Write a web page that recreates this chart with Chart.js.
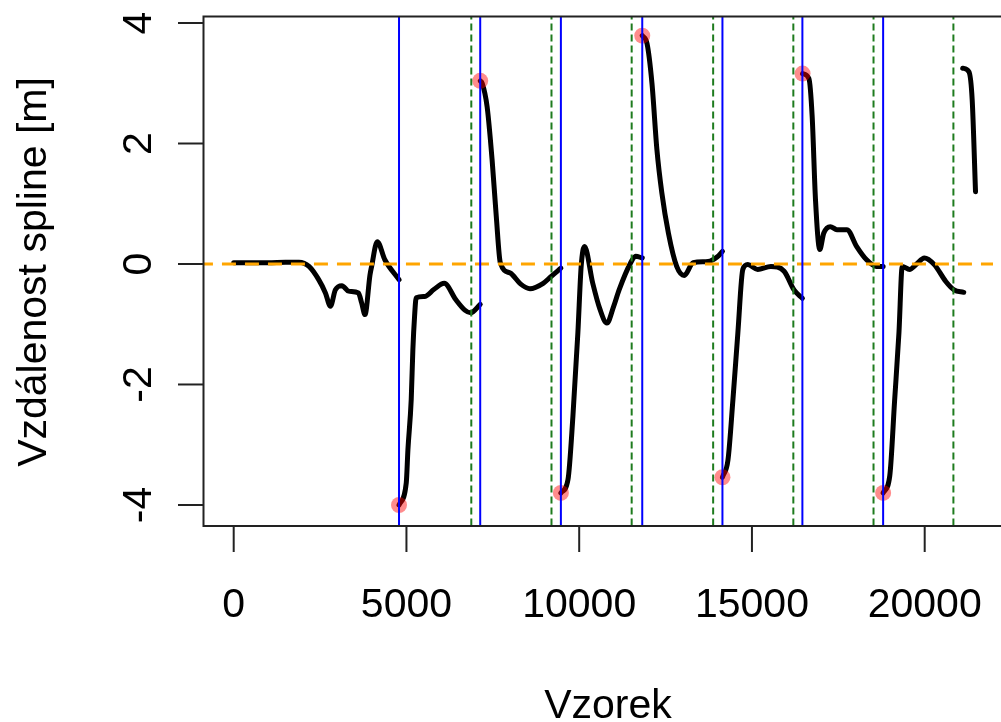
<!DOCTYPE html>
<html><head><meta charset="utf-8">
<script src="https://cdn.jsdelivr.net/npm/chart.js@4"></script>
<style>html,body{margin:0;padding:0;background:#fff;overflow:hidden}#wrap{width:1001px;height:722px;position:relative}</style>
</head><body><div id="wrap"><canvas id="c" width="1001" height="722"></canvas></div>
<script>
// ---- data ----
const xTicks = [0, 5000, 10000, 15000, 20000];
const yTicks = [-4, -2, 0, 2, 4];
const xTitle = 'Vzorek';
const yTitle = 'Vzdálenost spline [m]';
const blueLines = [4785, 7135, 9470, 11825, 14146, 16460, 18797];
const greenLines = [6877, 9198, 11519, 13877, 16198, 18519, 20831];
const peakX = [4785, 7135, 9470, 11825, 14146, 16465, 18797];
const peakY = [-4.0, 3.04, -3.80, 3.79, -3.54, 3.16, -3.80];
const zeroLevel = 0;

const seg1 = [[0,0.02],[500,0.02],[1000,0.02],[1500,0.03],[1890,0.03],[2180,-0.04],[2460,-0.26],[2655,-0.48],[2800,-0.70],[2942,-0.43],[3132,-0.36],[3324,-0.45],[3610,-0.48],[3705,-0.65],[3800,-0.84],[3945,-0.18],[3992,-0.04],[4155,0.37],[4375,0.07],[4785,-0.26]];
const seg2 = [[4785,-4.0],[4995,-3.63],[5043,-3.08],[5138,-2.25],[5186,-1.42],[5235,-0.87],[5282,-0.56],[5520,-0.54],[5800,-0.42],[6094,-0.32],[6427,-0.59],[6700,-0.77],[6857,-0.81],[7135,-0.67]];
const seg3 = [[7135,3.04],[7192,3.00],[7335,2.61],[7479,1.73],[7600,0.79],[7717,0.02],[8003,-0.15],[8300,-0.33],[8576,-0.41],[8958,-0.32],[9200,-0.20],[9470,-0.07]];
const seg4 = [[9470,-3.80],[9675,-3.58],[9818,-2.53],[9962,-1.14],[10057,-0.04],[10153,0.29],[10392,-0.32],[10600,-0.75],[10802,-0.98],[11000,-0.70],[11155,-0.43],[11490,0.02],[11633,0.13],[11825,0.10]];
const seg5 = [[11825,3.79],[11963,3.66],[12106,3.00],[12249,1.90],[12392,1.18],[12583,0.51],[12822,-0.04],[13040,-0.19],[13298,0.02],[13728,0.04],[14000,0.12],[14146,0.21]];
const seg6 = [[14146,-3.54],[14307,-3.25],[14450,-2.25],[14593,-1.14],[14736,-0.09],[14880,-0.01],[15166,-0.09],[15548,-0.04],[15931,-0.12],[16218,-0.43],[16460,-0.57]];
const seg7 = [[16465,3.16],[16648,3.08],[16743,2.45],[16839,1.07],[16963,0.24],[17077,0.51],[17269,0.62],[17460,0.57],[17746,0.57],[18032,0.29],[18318,0.07],[18605,-0.04],[18797,-0.04]];
const seg8 = [[18797,-3.80],[18988,-3.52],[19131,-2.25],[19255,-1.14],[19350,-0.04],[19561,-0.09],[19751,-0.01],[19991,0.10],[20278,-0.01],[20611,-0.29],[20850,-0.43],[21130,-0.47]];
const seg9 = [[21100,3.25],[21280,3.19],[21375,2.72],[21471,1.20]];
const segments = [seg1, seg2, seg3, seg4, seg5, seg6, seg7, seg8, seg9];

// ---- build ----
const FONT = '41px "Liberation Sans", Arial, sans-serif';
const datasets = [];
blueLines.forEach(v => datasets.push({
  data: [{x: v, y: -10}, {x: v, y: 10}], borderColor: '#0000ff', borderWidth: 2,
  pointRadius: 0, clip: 0
}));
greenLines.forEach(v => datasets.push({
  data: [{x: v, y: -10}, {x: v, y: 10}], borderColor: '#1e7b1e', borderWidth: 2,
  borderDash: [7, 4], pointRadius: 0, clip: 0
}));
datasets.push({
  data: [{x: -5000, y: zeroLevel}, {x: 30000, y: zeroLevel}], borderColor: '#ffa500',
  borderWidth: 3, borderDash: [14, 9], pointRadius: 0, clip: 0
});
datasets.push({
  data: peakX.map((x, i) => ({x, y: peakY[i]})),
  showLine: false, pointRadius: 8, pointHoverRadius: 8,
  pointBackgroundColor: 'rgba(255,0,0,0.45)', pointBorderWidth: 0, borderWidth: 0
});
segments.forEach(s => datasets.push({
  data: s.map(p => ({x: p[0], y: p[1]})), borderColor: '#000', borderWidth: 5,
  pointRadius: 0, cubicInterpolationMode: 'monotone', tension: 0.4,
  borderCapStyle: 'round', borderJoinStyle: 'round'
}));

const frame = {
  id: 'frame',
  afterDraw(chart) {
    const ctx = chart.ctx, a = chart.chartArea;
    const xs = chart.scales.x, ys = chart.scales.y;
    ctx.save();
    ctx.strokeStyle = '#222'; ctx.lineWidth = 2;
    ctx.beginPath();
    ctx.moveTo(chart.width + 20, a.top); ctx.lineTo(a.left, a.top);
    ctx.lineTo(a.left, a.bottom); ctx.lineTo(chart.width + 20, a.bottom);
    ctx.stroke();
    ctx.fillStyle = '#000'; ctx.font = FONT;
    ctx.textAlign = 'center'; ctx.textBaseline = 'alphabetic';
    xTicks.forEach(v => {
      const px = xs.getPixelForValue(v);
      ctx.beginPath(); ctx.moveTo(px, a.bottom); ctx.lineTo(px, a.bottom + 26); ctx.stroke();
      ctx.fillText(String(v), px, 617);
    });
    yTicks.forEach(v => {
      const py = ys.getPixelForValue(v);
      ctx.beginPath(); ctx.moveTo(a.left - 25.5, py); ctx.lineTo(a.left, py); ctx.stroke();
      ctx.save(); ctx.translate(151, py); ctx.rotate(-Math.PI / 2);
      ctx.fillText(String(v), 0, 0); ctx.restore();
    });
    ctx.fillText(xTitle, 608, 718);
    ctx.save(); ctx.translate(46, 272); ctx.rotate(-Math.PI / 2);
    ctx.fillText(yTitle, 0, 0); ctx.restore();
    ctx.restore();
  }
};

new Chart(document.getElementById('c'), {
  type: 'line',
  data: {datasets},
  options: {
    responsive: false, animation: false, devicePixelRatio: 1,
    layout: {padding: {left: 203.5, top: 16.5, right: 0, bottom: 196}},
    plugins: {legend: {display: false}, tooltip: {enabled: false}},
    events: [],
    scales: {
      x: {type: 'linear', min: -874, max: 21977, display: false},
      y: {type: 'linear', min: -4.349, max: 4.108, display: false}
    }
  },
  plugins: [frame]
});
</script></body></html>
